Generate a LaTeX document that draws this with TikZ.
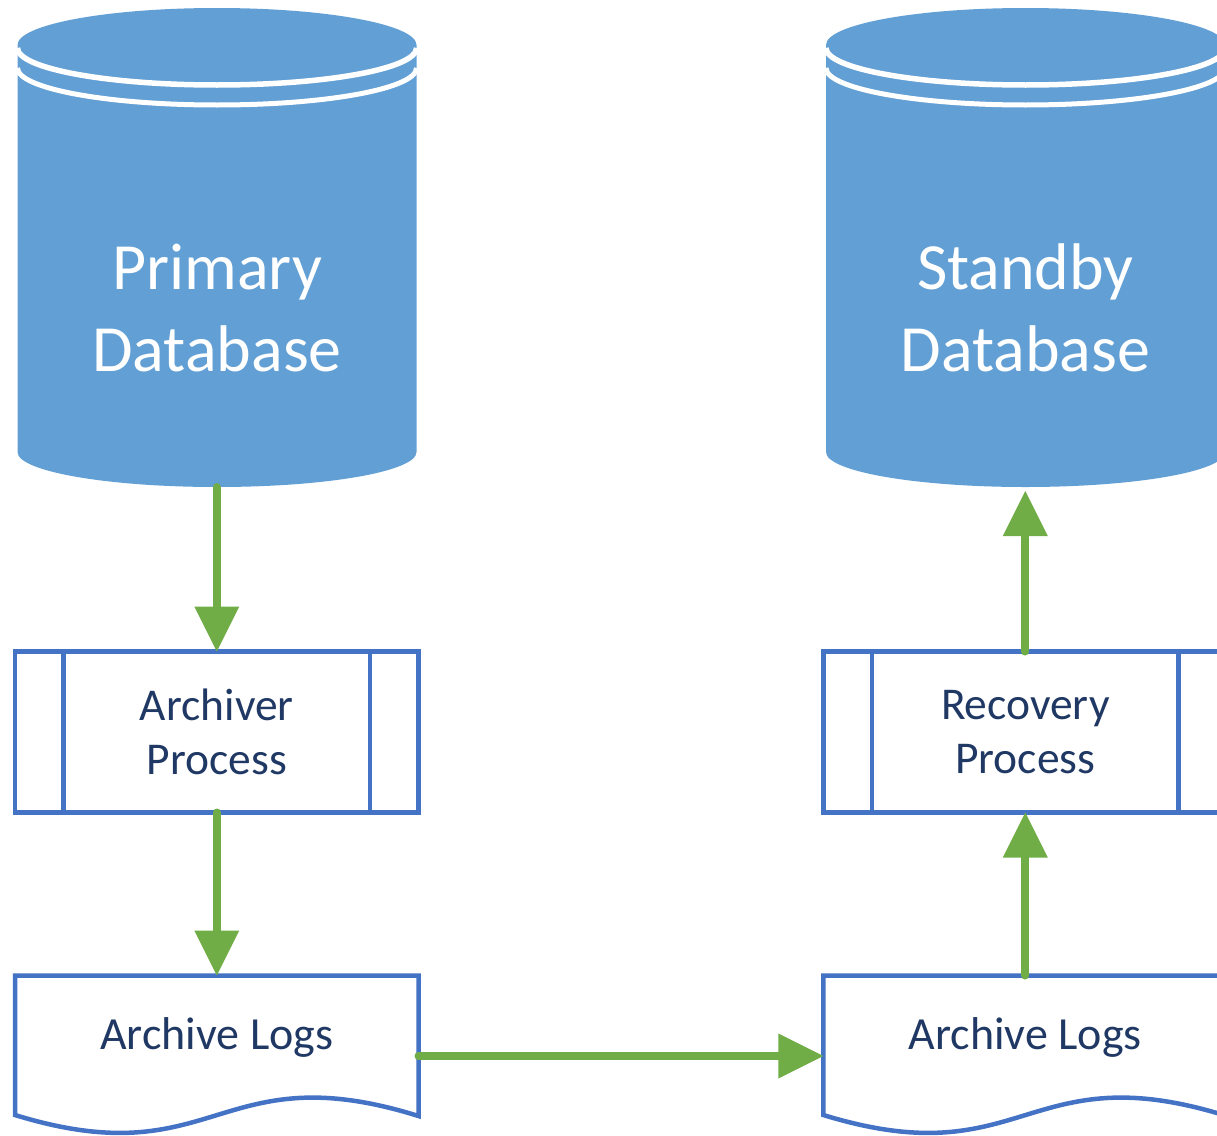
\documentclass[tikz,border=0pt]{standalone}
\usepackage{fontspec}
\setmainfont{Carlito}
\usetikzlibrary{arrows.meta}
\definecolor{dbblue}{HTML}{629FD5}
\definecolor{lineblue}{HTML}{4472C4}
\definecolor{arrowgreen}{HTML}{70AD47}
\definecolor{textblue}{HTML}{203864}
\begin{document}
\begin{tikzpicture}[x=1pt,y=-1pt,
  dbtext/.style={text=white, font=\fontsize{66}{82}\selectfont, align=center, inner sep=0pt},
  procbox/.style={draw=lineblue, line width=4.5pt, fill=white, minimum width=403.5pt,
    minimum height=161pt, inner sep=0pt, outer sep=0pt, text=textblue,
    font=\fontsize{45.5}{54}\selectfont, align=center},
  procline/.style={draw=lineblue, line width=4.5pt},
  docline/.style={draw=lineblue, line width=4.5pt, fill=white},
  doctext/.style={text=textblue, font=\fontsize{46}{54}\selectfont, inner sep=0pt, anchor=base},
  flow/.style={draw=arrowgreen, line width=8pt, line cap=round,
    -{Triangle[length=45pt,width=45pt,line width=0pt]}},
  dbcyl/.pic={
    \fill[dbblue] (-199.5,45) -- (-199.5,452)
      arc[start angle=180,end angle=360,x radius=199.5pt,y radius=35pt]
      -- (199.5,45)
      arc[start angle=0,end angle=180,x radius=199.5pt,y radius=37pt] -- cycle;
    \draw[white,line width=5.5pt] (-199.5,48)
      arc[start angle=180,end angle=360,x radius=199.5pt,y radius=37pt];
    \draw[white,line width=5pt] (-199.5,68)
      arc[start angle=180,end angle=360,x radius=199.5pt,y radius=37pt];
  }]
\useasboundingbox (0,0) rectangle (1217,1135);
\clip (0,0) rectangle (1217,1135);

% cylinders
\pic at (217,0) {dbcyl};
\pic at (1025.5,0) {dbcyl};
\node[dbtext] (primary) at (217,308) {Primary\\Database};
\node[dbtext] (standby) at (1025.5,308) {Standby\\Database};
\coordinate (primarybot) at (216.8,487);
\coordinate (standbybot) at (1025.3,491);

% process boxes
\node[procbox] (archiver) at (216.8,732) {Archiver\\Process};
\node[procbox] (recovery) at (1025.3,732) {Recovery\\Process};
\draw[procline] ([xshift=48.5pt]archiver.north west) -- ([xshift=48.5pt]archiver.south west);
\draw[procline] ([xshift=-48.5pt]archiver.north east) -- ([xshift=-48.5pt]archiver.south east);
\draw[procline] ([xshift=48.5pt]recovery.north west) -- ([xshift=48.5pt]recovery.south west);
\draw[procline] ([xshift=-48.5pt]recovery.north east) -- ([xshift=-48.5pt]recovery.south east);

% archive log documents
\draw[docline] (15,1115) -- (15,975.5) -- (418.5,975.5) -- (418.5,1116)
  .. controls (216.8,1053) and (216.8,1177) .. (15,1115) -- cycle;
\draw[docline] (823.3,1115) -- (823.3,975.5) -- (1226.8,975.5) -- (1226.8,1116)
  .. controls (1025.3,1053) and (1025.3,1177) .. (823.3,1115) -- cycle;
\node[doctext] (logsA) at (216.8,1049) {Archive Logs};
\node[doctext] (logsB) at (1025.3,1049) {Archive Logs};
\coordinate (logsAtop) at (216.8,975.5);
\coordinate (logsAright) at (418.5,1056);
\coordinate (logsBleft) at (823.3,1056);
\coordinate (logsBtop) at (1025.3,975.5);

% connectors
\draw[flow] (primarybot) -- (archiver.north);
\draw[flow] (archiver.south) -- (logsAtop);
\draw[flow] (logsAright) -- (logsBleft);
\draw[flow] (logsBtop) -- (recovery.south);
\draw[flow] (recovery.north) -- (standbybot);
\end{tikzpicture}
\end{document}
